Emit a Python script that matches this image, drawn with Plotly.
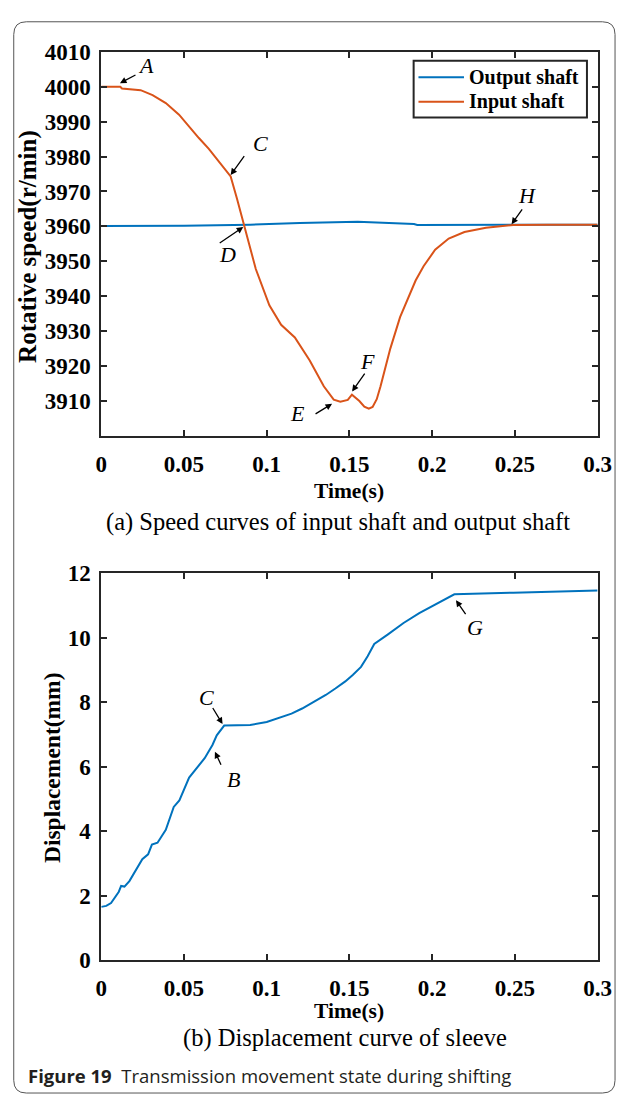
import plotly.graph_objects as go

# ---------------- data ----------------
t_output = [0, 0.05, 0.09, 0.12, 0.155, 0.17, 0.189, 0.191, 0.22, 0.25, 0.3]
v_output = [3960.1, 3960.2, 3960.5, 3961.0, 3961.3, 3961.1, 3960.7, 3960.4, 3960.4, 3960.4, 3960.5]

t_input = [0, 0.010, 0.0115, 0.0125, 0.018, 0.0238, 0.031, 0.039, 0.047, 0.053, 0.059,
           0.065, 0.071, 0.0782, 0.082, 0.0863, 0.0934, 0.1016, 0.1087, 0.117, 0.126,
           0.1345, 0.1405, 0.1445, 0.149, 0.1515, 0.153, 0.156, 0.159, 0.1617, 0.164,
           0.1665, 0.1688, 0.1747, 0.1806, 0.186, 0.190, 0.1948, 0.2018, 0.21, 0.2195,
           0.2325, 0.249, 0.27, 0.3]
v_input = [4000, 4000, 4000, 3999.5, 3999.3, 3999.0, 3997.6, 3995.3, 3992.0, 3988.6, 3985.3,
           3982.2, 3978.6, 3974.3, 3968.0, 3960.3, 3947.8, 3937.4, 3931.8, 3928.2, 3921.6,
           3914.2, 3910.4, 3909.8, 3910.3, 3911.8, 3911.2, 3910.0, 3908.4, 3907.8, 3908.3,
           3910.5, 3914.2, 3925.0, 3934.0, 3940.0, 3944.5, 3948.6, 3953.3, 3956.5, 3958.4,
           3959.6, 3960.4, 3960.5, 3960.5]

t_disp = [0, 0.003, 0.0059, 0.0106, 0.012, 0.014, 0.017, 0.020, 0.0248, 0.0283, 0.0306,
          0.034, 0.039, 0.0438, 0.0472, 0.0531, 0.059, 0.0625, 0.0672, 0.0698, 0.0743,
          0.0837, 0.09, 0.1, 0.1075, 0.115, 0.1214, 0.1285, 0.1357, 0.1415, 0.1475,
          0.152, 0.157, 0.161, 0.165, 0.1733, 0.1827, 0.1922, 0.2016, 0.2087, 0.2134,
          0.249, 0.3]
v_disp = [1.65, 1.68, 1.77, 2.12, 2.30, 2.28, 2.45, 2.73, 3.13, 3.28, 3.58,
          3.64, 4.04, 4.75, 4.95, 5.66, 6.06, 6.26, 6.67, 6.97, 7.27,
          7.27, 7.29, 7.38, 7.50, 7.64, 7.80, 8.00, 8.22, 8.42, 8.64,
          8.84, 9.09, 9.42, 9.80, 10.10, 10.45, 10.76, 11.01, 11.21, 11.34,
          11.39, 11.46]

x_ticks = [0, 0.05, 0.1, 0.15, 0.2, 0.25, 0.3]
x_ticktext = ["0", "0.05", "0.1", "0.15", "0.2", "0.25", "0.3"]
speed_ticks = [3910, 3920, 3930, 3940, 3950, 3960, 3970, 3980, 3990, 4000, 4010]
disp_ticks = [0, 2, 4, 6, 8, 10, 12]
legend_names = ["Output shaft", "Input shaft"]

BLUE = "#0072BD"
ORANGE = "#D95319"
AX = "#262626"
SERIF = "Liberation Serif"
W, H = 630, 1107


def px(x):
    return x / W


def py(y):
    return 1 - y / H


fig = go.Figure()
fig.add_trace(go.Scatter(x=t_output, y=v_output, mode="lines", name=legend_names[0],
                         line=dict(color=BLUE, width=2), xaxis="x", yaxis="y"))
fig.add_trace(go.Scatter(x=t_input, y=v_input, mode="lines", name=legend_names[1],
                         line=dict(color=ORANGE, width=2), xaxis="x", yaxis="y"))
fig.add_trace(go.Scatter(x=t_disp, y=v_disp, mode="lines", name="Displacement",
                         line=dict(color=BLUE, width=2), xaxis="x2", yaxis="y2"))

tickfont = dict(family=SERIF, size=23, color="black", weight="bold")
common_ax = dict(showline=True, mirror="ticks", linecolor=AX, linewidth=2,
                 ticks="inside", ticklen=6, tickwidth=1.5, tickcolor=AX,
                 showgrid=False, zeroline=False, tickfont=tickfont)

xdom = [px(98.4), px(611)]
fig.update_layout(
    width=W, height=H, autosize=False,
    margin=dict(l=0, r=0, t=0, b=0),
    paper_bgcolor="white", plot_bgcolor="white",
    xaxis=dict(domain=xdom, range=[0, 0.3], tickvals=x_ticks, ticktext=x_ticktext,
               anchor="y", ticklabelstandoff=6, **common_ax),
    yaxis=dict(domain=[py(433.7), py(40.7)], range=[3900, 4010], tickvals=speed_ticks,
               anchor="x", ticklabelstandoff=4, **common_ax),
    xaxis2=dict(domain=xdom, range=[0, 0.3], tickvals=x_ticks, ticktext=x_ticktext,
                anchor="y2", ticklabelstandoff=6, **common_ax),
    yaxis2=dict(domain=[py(970), py(574)], range=[0, 12], tickvals=disp_ticks,
                anchor="x2", ticklabelstandoff=4, **common_ax),
    showlegend=False,
)

ann = []
shapes = []


def text_ann(x, y, text, size, bold=False, angle=0, family=SERIF, xanchor="center"):
    ann.append(dict(x=x, y=y, xref="paper", yref="paper", text=text, showarrow=False,
                    textangle=angle, xanchor=xanchor, yanchor="middle",
                    font=dict(family=family, size=size, color="black",
                              weight="bold" if bold else "normal")))


text_ann(px(22), py(240), "Rotative speed(r/min)", 25, bold=True, angle=-90)
text_ann(px(354), py(490), "Time(s)", 21.5, bold=True)
text_ann(px(343), py(522), "(a) Speed curves of input shaft and output shaft", 24.5)
text_ann(px(47), py(773), "Displacement(mm)", 23.5, bold=True, angle=-90)
text_ann(px(354), py(1022), "Time(s)", 21.5, bold=True)
text_ann(px(350), py(1050), "(b) Displacement curve of sleeve", 24.5)
ann.append(dict(x=px(21), y=py(1088), xref="paper", yref="paper",
                text="<b>Figure 19</b>  Transmission movement state during shifting",
                showarrow=False, xanchor="left", yanchor="middle",
                font=dict(family="Open Sans", size=18.5, color="#231f20")))

# legend box (drawn manually to match the original's compact layout)
shapes.append(dict(type="rect", xref="paper", yref="paper",
                   x0=px(421), x1=px(600), y0=py(108), y1=py(50),
                   line=dict(color=AX, width=2), fillcolor="white", layer="above"))
for i, (name, col) in enumerate(zip(legend_names, [BLUE, ORANGE])):
    yy = 66.7 + 25 * i
    shapes.append(dict(type="line", xref="paper", yref="paper",
                       x0=px(426), x1=px(473), y0=py(yy), y1=py(yy),
                       line=dict(color=col, width=2), layer="above"))
    ann.append(dict(x=px(476), y=py(yy), xref="paper", yref="paper", text=name,
                    showarrow=False, xanchor="left", yanchor="middle",
                    font=dict(family=SERIF, size=20, color="black", weight="bold")))


def arrow(xr, yr, x, y, ax, ay):
    ann.append(dict(x=x, y=y, xref=xr, yref=yr, ax=ax, ay=ay, text=" ",
                    font=dict(size=1), showarrow=True, arrowhead=2, arrowsize=1,
                    arrowwidth=1.3, arrowcolor="black", standoff=0, startstandoff=0))


def letter(xr, yr, x, y, s):
    ann.append(dict(x=x, y=y, xref=xr, yref=yr, text="<i>" + s + "</i>", showarrow=False,
                    xanchor="center", yanchor="middle",
                    font=dict(family=SERIF, size=22, color="black")))


# top chart labels
arrow("x", "y", 0.0113, 4001, 17, -9)
letter("x", "y", 0.027, 4006, "A")
arrow("x", "y", 0.0782, 3974.7, 15, -21)
letter("x", "y", 0.0963, 3983.6, "C")
arrow("x", "y", 0.0858, 3959.8, -25, 17)
letter("x", "y", 0.0764, 3952, "D")
arrow("x", "y", 0.1395, 3909.2, -18, 11)
letter("x", "y", 0.1185, 3906.4, "E")
arrow("x", "y", 0.1516, 3912.7, 14, -20)
letter("x", "y", 0.161, 3921.2, "F")
arrow("x", "y", 0.248, 3960.6, 12, -17)
letter("x", "y", 0.2573, 3968.8, "H")

# bottom chart labels
arrow("x2", "y2", 0.0733, 7.32, -11, -18)
letter("x2", "y2", 0.0635, 8.13, "C")
arrow("x2", "y2", 0.0687, 6.46, 7, 15)
letter("x2", "y2", 0.080, 5.6, "B")
arrow("x2", "y2", 0.2144, 11.16, 11, 16)
letter("x2", "y2", 0.2258, 10.3, "G")

# outer rounded frame
x0, x1, y0, y1 = px(8), px(629), py(1106), py(10)
rx, ry = 13 / W, 13 / H
path = (f"M {x0+rx},{y1} L {x1-rx},{y1} Q {x1},{y1} {x1},{y1-ry} "
        f"L {x1},{y0+ry} Q {x1},{y0} {x1-rx},{y0} L {x0+rx},{y0} "
        f"Q {x0},{y0} {x0},{y0+ry} L {x0},{y1-ry} Q {x0},{y1} {x0+rx},{y1} Z")
shapes.append(dict(type="path", path=path, xref="paper", yref="paper",
                   line=dict(color="#555555", width=1), layer="below"))

fig.update_layout(annotations=ann, shapes=shapes)

fig.write_html("out.html", config={"displayModeBar": False},
               post_script="document.body.style.margin='0';document.body.style.overflow='hidden';")
